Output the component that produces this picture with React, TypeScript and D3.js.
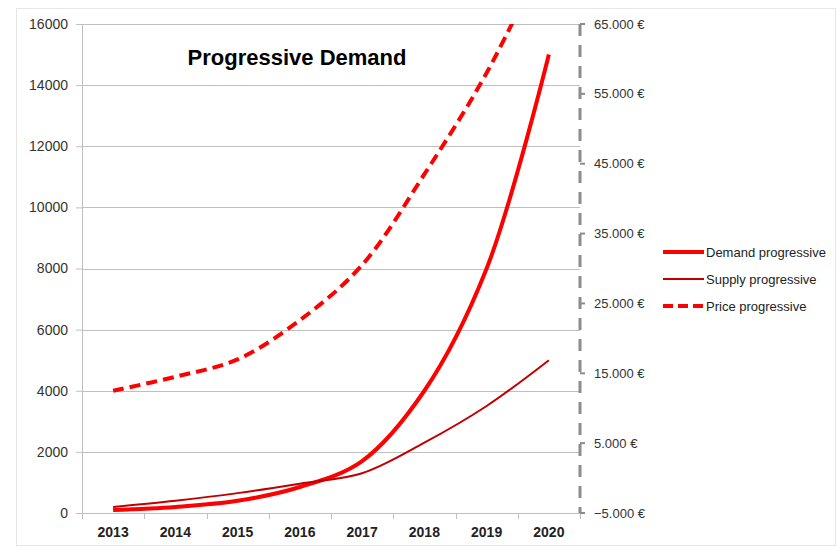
import * as d3 from "d3";
import { useEffect, useRef } from "react";

const years = ["2013", "2014", "2015", "2016", "2017", "2018", "2019", "2020"];
const demand = [100, 200, 400, 850, 1700, 4000, 8000, 15000];
const supply = [200, 400, 650, 960, 1300, 2300, 3500, 5000];
const price = [12500, 14500, 17000, 22600, 30500, 43500, 58000, 76000];
const leftTicks = [0, 2000, 4000, 6000, 8000, 10000, 12000, 14000, 16000];
const rightTicks = [-5000, 5000, 15000, 25000, 35000, 45000, 55000, 65000];

const W = 837;
const H = 547;
const margin = { top: 24, right: 257, bottom: 34, left: 82 };

const App = () => {
  const ref = useRef<SVGSVGElement>(null);

  useEffect(() => {
    const svg = d3.select(ref.current);
    svg.selectAll("*").remove();
    const width = W - margin.left - margin.right;
    const height = H - margin.top - margin.bottom;
    const font = "'Liberation Sans', Arial, sans-serif";

    svg
      .append("rect")
      .attr("x", 16.5)
      .attr("y", 8.5)
      .attr("width", W - 18)
      .attr("height", H - 10)
      .attr("fill", "#fff")
      .attr("stroke", "#e6e6e6");

    const g = svg.append("g").attr("transform", `translate(${margin.left},${margin.top})`);

    const x = d3.scaleBand().domain(years).range([0, width]);
    const y = d3.scaleLinear().domain([0, 16000]).range([height, 0]);
    const y2 = d3.scaleLinear().domain([-5000, 65000]).range([height, 0]);
    const cx = (i: number) => (x(years[i]) as number) + x.bandwidth() / 2;

    // grid
    g.append("g")
      .selectAll("line")
      .data(leftTicks)
      .join("line")
      .attr("x1", 0)
      .attr("x2", width)
      .attr("y1", (d) => Math.round(y(d)) + 0.5)
      .attr("y2", (d) => Math.round(y(d)) + 0.5)
      .attr("stroke", "#bfbfbf");

    // left axis
    const la = g
      .append("g")
      .call(d3.axisLeft(y).tickValues(leftTicks).tickSize(6).tickPadding(8).tickFormat(d3.format("d")));
    la.select(".domain").attr("stroke", "#bfbfbf");
    la.selectAll(".tick line").attr("stroke", "#bfbfbf");
    la.selectAll("text").attr("font-family", font).attr("font-size", 14).attr("fill", "#333");

    // bottom axis
    const ba = g
      .append("g")
      .attr("transform", `translate(0,${height})`)
      .call(d3.axisBottom(x).tickSize(0).tickPadding(14));
    ba.select(".domain").remove();
    ba.selectAll("text")
      .attr("font-family", font)
      .attr("font-size", 14)
      .attr("font-weight", "bold")
      .attr("fill", "#222");
    g.append("g")
      .selectAll("line")
      .data(d3.range(years.length + 1))
      .join("line")
      .attr("x1", (i) => Math.round(i * x.step()) + 0.5)
      .attr("x2", (i) => Math.round(i * x.step()) + 0.5)
      .attr("y1", height)
      .attr("y2", height + 6)
      .attr("stroke", "#bfbfbf");

    // right axis
    g.append("line")
      .attr("x1", width)
      .attr("x2", width)
      .attr("y1", 0)
      .attr("y2", height)
      .attr("stroke", "#8c8c8c")
      .attr("stroke-width", 3)
      .attr("stroke-dasharray", "12,9");
    g.append("g")
      .selectAll("line")
      .data(rightTicks)
      .join("line")
      .attr("x1", width)
      .attr("x2", width + 5)
      .attr("y1", (d) => y2(d))
      .attr("y2", (d) => y2(d))
      .attr("stroke", "#8c8c8c")
      .attr("stroke-width", 2);
    g.append("g")
      .selectAll("text")
      .data(rightTicks)
      .join("text")
      .attr("x", width + 14)
      .attr("y", (d) => y2(d))
      .attr("dy", "0.35em")
      .attr("font-family", font)
      .attr("font-size", 13)
      .attr("fill", "#333")
      .text((d) => d3.format(",")(d).replace(/,/g, ".") + " €");

    // clip
    svg
      .append("defs")
      .append("clipPath")
      .attr("id", "plot")
      .append("rect")
      .attr("x", 0)
      .attr("y", 0)
      .attr("width", width)
      .attr("height", height);

    const curve = d3.curveCatmullRom.alpha(0.5);
    const line1 = d3
      .line<number>()
      .x((_, i) => cx(i))
      .y((d) => y(d))
      .curve(curve);
    const line2 = d3
      .line<number>()
      .x((_, i) => cx(i))
      .y((d) => y2(d))
      .curve(curve);

    const lines = g.append("g").attr("clip-path", "url(#plot)");
    lines
      .append("path")
      .attr("d", line2(price))
      .attr("fill", "none")
      .attr("stroke", "#ff0000")
      .attr("stroke-width", 4)
      .attr("stroke-dasharray", "11,6");
    lines
      .append("path")
      .attr("d", line1(demand))
      .attr("fill", "none")
      .attr("stroke", "#ff0000")
      .attr("stroke-width", 4);
    lines
      .append("path")
      .attr("d", line1(supply))
      .attr("fill", "none")
      .attr("stroke", "#c00000")
      .attr("stroke-width", 2);

    // title
    svg
      .append("text")
      .attr("x", 297)
      .attr("y", 65)
      .attr("text-anchor", "middle")
      .attr("font-family", font)
      .attr("font-size", 22)
      .attr("font-weight", "bold")
      .attr("fill", "#000")
      .text("Progressive Demand");

    // legend
    const legend = [
      { name: "Demand progressive", color: "#ff0000", w: 4, dash: null },
      { name: "Supply progressive", color: "#c00000", w: 2, dash: null },
      { name: "Price progressive", color: "#ff0000", w: 4, dash: "10,5" },
    ];
    const lg = svg
      .append("g")
      .selectAll("g")
      .data(legend)
      .join("g")
      .attr("transform", (_, i) => `translate(663,${252 + i * 27})`);
    lg.append("line")
      .attr("x1", 0)
      .attr("x2", 41)
      .attr("stroke", (d) => d.color)
      .attr("stroke-width", (d) => d.w)
      .attr("stroke-dasharray", (d) => d.dash);
    lg.append("text")
      .attr("x", 43)
      .attr("dy", "0.35em")
      .attr("font-family", font)
      .attr("font-size", 13)
      .attr("fill", "#222")
      .text((d) => d.name);
  }, []);

  return (
    <svg
      ref={ref}
      width={W}
      height={H}
      style={{ position: "absolute", left: 0, top: 0, background: "#fff" }}
    />
  );
};

export default App;
